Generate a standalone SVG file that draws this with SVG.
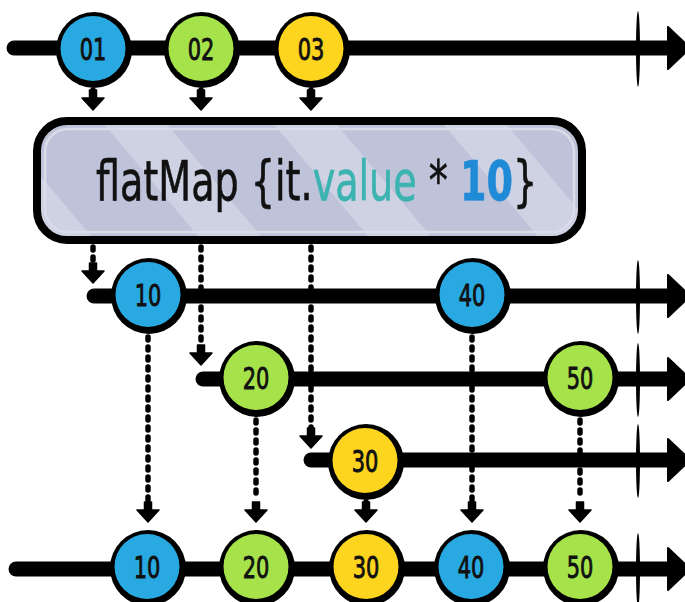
<svg xmlns="http://www.w3.org/2000/svg" width="685" height="602" viewBox="0 0 685 602">
<style>
.tl{stroke:#000;stroke-width:15;stroke-linecap:round;fill:none}
.head{fill:#000;stroke:#000;stroke-width:2;stroke-linejoin:round}
.tick{fill:#000}
.dot{stroke:#000;stroke-width:5.5;stroke-linecap:round;stroke-dasharray:3 7;fill:none}
.rim{fill:#000}
.blue{fill:#29a9e1}
.green{fill:#a6e34b}
.yellow{fill:#fdd41e}
.lbl{font-family:"DejaVu Sans Condensed","DejaVu Sans","Liberation Sans",sans-serif;font-stretch:condensed;font-size:31px;fill:#111;stroke:#111;stroke-width:0.9;text-anchor:middle}
.code{font-family:"DejaVu Sans Condensed","DejaVu Sans","Liberation Sans",sans-serif;font-stretch:condensed;font-size:55px;fill:#111;stroke:#111;stroke-width:0.6}
</style>
<defs>
<path id="ah" d="M-3.5 -20 H3.5 V-12 H11 L0 0 L-11 -12 H-3.5 Z" fill="#000" stroke="#000" stroke-width="1.5" stroke-linejoin="round"/>
<pattern id="stripes" patternUnits="userSpaceOnUse" width="130" height="130" patternTransform="rotate(-40)">
<rect width="130" height="130" fill="#bec3d9"/>
<rect x="0" y="0" width="48" height="130" fill="#cfd2e3"/>
</pattern>
</defs>

<g id="timelines">
<g id="line-top">
<line class="tl" x1="14" y1="48" x2="672" y2="48"/>
<path class="head" d="M668 27 L690 48 L668 69 Z"/>
<ellipse class="tick" cx="638" cy="49" rx="2" ry="38"/>
</g>
<g id="line-2">
<line class="tl" x1="94" y1="296" x2="672" y2="296"/>
<path class="head" d="M668 275 L690 296 L668 317 Z"/>
<ellipse class="tick" cx="638" cy="297" rx="2" ry="37"/>
</g>
<g id="line-3">
<line class="tl" x1="203" y1="379" x2="672" y2="379"/>
<path class="head" d="M668 358 L690 379 L668 400 Z"/>
<ellipse class="tick" cx="638" cy="380" rx="2" ry="37"/>
</g>
<g id="line-4">
<line class="tl" x1="311" y1="460" x2="672" y2="460"/>
<path class="head" d="M668 439 L690 460 L668 481 Z"/>
<ellipse class="tick" cx="638" cy="461" rx="2" ry="37"/>
</g>
<g id="line-bottom">
<line class="tl" x1="16" y1="569" x2="672" y2="569"/>
<path class="head" d="M668 548 L690 569 L668 590 Z"/>
<ellipse class="tick" cx="638" cy="570" rx="2" ry="37"/>
</g>
</g>

<g id="connectors">
<line class="dot" x1="93" y1="90" x2="93" y2="92"/><use href="#ah" x="93" y="110"/>
<line class="dot" x1="201" y1="90" x2="201" y2="92"/><use href="#ah" x="201" y="110"/>
<line class="dot" x1="311" y1="90" x2="311" y2="92"/><use href="#ah" x="311" y="110"/>

<line class="dot" x1="93" y1="247" x2="93" y2="262"/><use href="#ah" x="93" y="283"/>
<line class="dot" x1="201" y1="247" x2="201" y2="345"/><use href="#ah" x="201" y="365"/>
<line class="dot" x1="311" y1="247" x2="311" y2="428"/><use href="#ah" x="311" y="448"/>

<line class="dot" x1="148" y1="337" x2="148" y2="500"/><use href="#ah" x="148" y="522"/>
<line class="dot" x1="472" y1="337" x2="472" y2="500"/><use href="#ah" x="472" y="522"/>
<line class="dot" x1="256" y1="420" x2="256" y2="500"/><use href="#ah" x="256" y="522"/>
<line class="dot" x1="580" y1="420" x2="580" y2="500"/><use href="#ah" x="580" y="522"/>
<line class="dot" x1="366" y1="502" x2="366" y2="502"/><use href="#ah" x="366" y="522"/>
</g>

<g id="flatmap">
<rect x="37" y="121" width="545" height="119" rx="30" fill="url(#stripes)" stroke="#000" stroke-width="8"/>
<rect x="45" y="129" width="529" height="103" rx="23" fill="none" stroke="#dadcea" stroke-width="2.5"/>
<text class="code" transform="translate(96,200) scale(0.77,1)" x="0" y="0">flatMap {it.<tspan fill="#3bb3b0" stroke="#3bb3b0">value</tspan> * <tspan fill="#1f8ad6" stroke="#1f8ad6" font-weight="bold">10</tspan>}</text>
</g>

<g id="n01"><circle class="rim" cx="94" cy="50" r="38"/><circle class="blue" cx="93" cy="48.5" r="32.5"/><text class="lbl" transform="translate(93,60) scale(0.75,1)">01</text></g>
<g id="n02"><circle class="rim" cx="202" cy="50" r="38"/><circle class="green" cx="201" cy="48.5" r="32.5"/><text class="lbl" transform="translate(201,60) scale(0.75,1)">02</text></g>
<g id="n03"><circle class="rim" cx="312" cy="50" r="38"/><circle class="yellow" cx="311" cy="48.5" r="32.5"/><text class="lbl" transform="translate(311,60) scale(0.75,1)">03</text></g>

<g id="m10"><circle class="rim" cx="149" cy="296" r="38"/><circle class="blue" cx="148" cy="294.5" r="32.5"/><text class="lbl" transform="translate(148,306) scale(0.75,1)">10</text></g>
<g id="m40"><circle class="rim" cx="473" cy="296" r="38"/><circle class="blue" cx="472" cy="294.5" r="32.5"/><text class="lbl" transform="translate(472,306) scale(0.75,1)">40</text></g>
<g id="m20"><circle class="rim" cx="257" cy="379" r="38"/><circle class="green" cx="256" cy="377.5" r="32.5"/><text class="lbl" transform="translate(256,389) scale(0.75,1)">20</text></g>
<g id="m50"><circle class="rim" cx="581" cy="379" r="38"/><circle class="green" cx="580" cy="377.5" r="32.5"/><text class="lbl" transform="translate(580,389) scale(0.75,1)">50</text></g>
<g id="m30"><circle class="rim" cx="366" cy="462" r="38"/><circle class="yellow" cx="365" cy="460.5" r="32.5"/><text class="lbl" transform="translate(365,472) scale(0.75,1)">30</text></g>

<g id="b10"><circle class="rim" cx="148" cy="568" r="38"/><circle class="blue" cx="147" cy="566.5" r="32.5"/><text class="lbl" transform="translate(147,578) scale(0.75,1)">10</text></g>
<g id="b20"><circle class="rim" cx="257" cy="568" r="38"/><circle class="green" cx="256" cy="566.5" r="32.5"/><text class="lbl" transform="translate(256,578) scale(0.75,1)">20</text></g>
<g id="b30"><circle class="rim" cx="367" cy="568" r="38"/><circle class="yellow" cx="366" cy="566.5" r="32.5"/><text class="lbl" transform="translate(366,578) scale(0.75,1)">30</text></g>
<g id="b40"><circle class="rim" cx="472" cy="568" r="38"/><circle class="blue" cx="471" cy="566.5" r="32.5"/><text class="lbl" transform="translate(471,578) scale(0.75,1)">40</text></g>
<g id="b50"><circle class="rim" cx="581" cy="568" r="38"/><circle class="green" cx="580" cy="566.5" r="32.5"/><text class="lbl" transform="translate(580,578) scale(0.75,1)">50</text></g>
</svg>
